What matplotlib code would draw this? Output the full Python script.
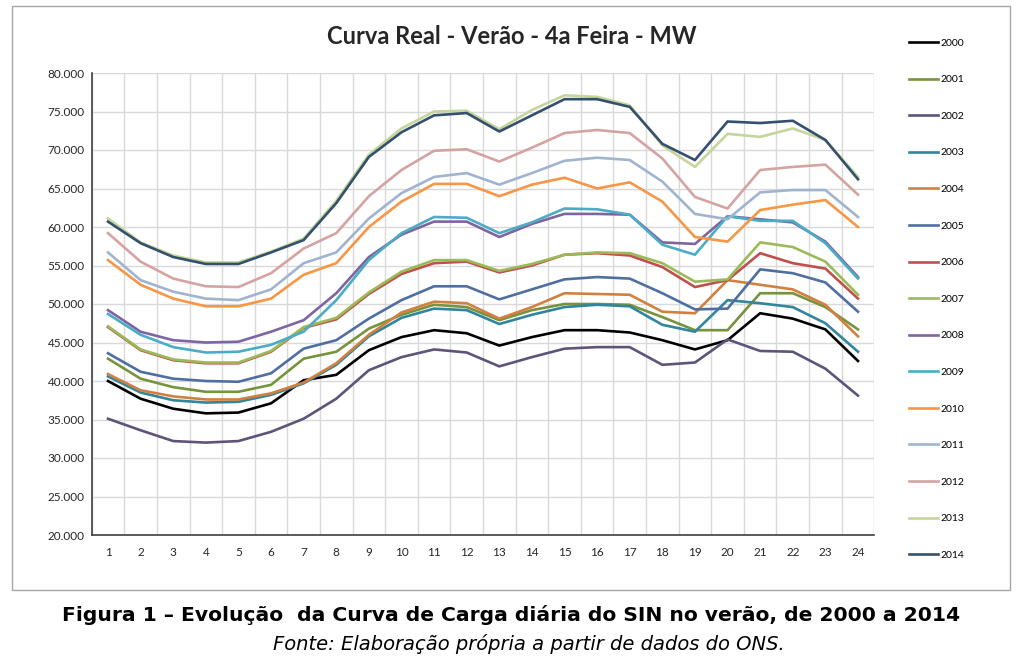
import matplotlib.pyplot as plt
from matplotlib.patches import Rectangle
from matplotlib.ticker import FuncFormatter

# horas do dia
horas = list(range(1, 25))

# carga (MW) por ano
y2000 = [40000, 37700, 36400, 35800, 35900, 37100, 40100, 40800, 44000, 45700, 46600, 46200,
         44600, 45700, 46600, 46600, 46300, 45300, 44100, 45300, 48800, 48100, 46700, 42600]
y2001 = [42900, 40300, 39200, 38600, 38600, 39500, 42900, 43800, 46800, 48600, 49900, 49600,
         47900, 49200, 50000, 50000, 49900, 48300, 46600, 46600, 51400, 51400, 49600, 46700]
y2002 = [35100, 33600, 32200, 32000, 32200, 33400, 35100, 37700, 41400, 43100, 44100, 43700,
         41900, 43100, 44200, 44400, 44400, 42100, 42400, 45400, 43900, 43800, 41600, 38100]
y2003 = [40600, 38500, 37500, 37200, 37300, 38200, 39700, 42100, 45800, 48200, 49400, 49200,
         47400, 48600, 49600, 49900, 49700, 47300, 46400, 50500, 50100, 49600, 47500, 43800]
y2004 = [40900, 38800, 38000, 37600, 37600, 38400, 39800, 42300, 46000, 48900, 50300, 50100,
         48100, 49600, 51400, 51300, 51200, 49000, 48800, 53100, 52500, 51900, 49900, 45800]
y2005 = [43600, 41200, 40300, 40000, 39900, 41000, 44200, 45300, 48100, 50500, 52300, 52300,
         50600, 51900, 53200, 53500, 53300, 51400, 49300, 49400, 54500, 54000, 52800, 49000]
y2006 = [47000, 44000, 42700, 42300, 42300, 43800, 46900, 48000, 51300, 53900, 55300, 55500,
         54100, 55000, 56400, 56600, 56300, 54800, 52200, 53100, 56600, 55300, 54600, 50700]
y2007 = [47100, 44100, 42800, 42400, 42400, 43900, 47000, 48200, 51500, 54200, 55700, 55700,
         54300, 55200, 56400, 56700, 56600, 55300, 52900, 53200, 58000, 57400, 55500, 51200]
y2008 = [49200, 46400, 45300, 45000, 45100, 46400, 47900, 51400, 56100, 59000, 60700, 60700,
         58700, 60400, 61700, 61700, 61600, 58000, 57800, 61400, 61000, 60600, 58100, 53500]
y2009 = [48700, 46000, 44400, 43700, 43800, 44700, 46400, 50500, 55700, 59200, 61300, 61200,
         59200, 60600, 62400, 62300, 61600, 57700, 56400, 61400, 60800, 60800, 57900, 53300]
y2010 = [55700, 52500, 50700, 49700, 49700, 50700, 53800, 55300, 60000, 63300, 65600, 65600,
         64000, 65500, 66400, 65000, 65800, 63300, 58700, 58100, 62200, 62900, 63500, 60000]
y2011 = [56700, 53100, 51600, 50700, 50500, 51900, 55300, 56700, 61100, 64400, 66500, 67000,
         65500, 67000, 68600, 69000, 68700, 65900, 61700, 61000, 64500, 64800, 64800, 61300]
y2012 = [59200, 55500, 53300, 52300, 52200, 54000, 57200, 59200, 64000, 67400, 69900, 70100,
         68500, 70300, 72200, 72600, 72200, 68900, 63900, 62400, 67400, 67800, 68100, 64200]
y2013 = [61100, 58000, 56300, 55400, 55400, 56800, 58500, 63400, 69400, 72800, 75000, 75100,
         72700, 75200, 77100, 76900, 75800, 70600, 67800, 72100, 71700, 72800, 71300, 66500]
y2014 = [60700, 57900, 56100, 55200, 55200, 56700, 58300, 63100, 69100, 72300, 74500, 74800,
         72400, 74500, 76600, 76600, 75600, 70800, 68700, 73700, 73500, 73800, 71300, 66200]

anos = ['2000', '2001', '2002', '2003', '2004', '2005', '2006', '2007',
        '2008', '2009', '2010', '2011', '2012', '2013', '2014']
series = [y2000, y2001, y2002, y2003, y2004, y2005, y2006, y2007,
          y2008, y2009, y2010, y2011, y2012, y2013, y2014]
cores = ['#000000', '#77933C', '#5E5479', '#31859C', '#D2803F', '#4F6FA0', '#C0504D', '#9BBB59',
         '#7E64A0', '#4BACC6', '#F79646', '#A0B4D0', '#D4A3A2', '#C3D69B', '#34506E']

plt.rcParams['font.family'] = ['Lato', 'DejaVu Sans']

fig = plt.figure(figsize=(10.23, 6.6), dpi=100)

# moldura do grafico
fig.patches.append(Rectangle((12 / 1023, 1 - 590 / 660), 998 / 1023, 584 / 660,
                             transform=fig.transFigure, fill=False,
                             edgecolor='#a6a6a6', linewidth=1.0))

ax = fig.add_axes([91.7 / 1023, 1 - 535 / 660, (874.3 - 91.7) / 1023, 462 / 660])

for ano, y, c in zip(anos, series, cores):
    ax.plot(horas, y, color=c, linewidth=1.9, label=ano)

ax.set_xlim(0.5, 24.5)
ax.set_ylim(20000, 80000)
ax.set_yticks(range(20000, 80001, 5000))
ax.yaxis.set_major_formatter(FuncFormatter(lambda v, p: f"{v:,.0f}".replace(',', '.')))
ax.set_xticks(horas)
ax.set_xticks([h + 0.5 for h in range(0, 25)], minor=True)
ax.tick_params(axis='both', which='major', length=0, labelsize=8.5, colors='#262626')
ax.tick_params(axis='y', which='major', pad=5)
ax.tick_params(axis='x', which='major', pad=9)
ax.tick_params(axis='x', which='minor', length=0)
ax.grid(True, axis='y', which='major', color='#d9d9d9', linewidth=1)
ax.grid(True, axis='x', which='minor', color='#d9d9d9', linewidth=1)
ax.set_axisbelow(True)
for s in ['top', 'right']:
    ax.spines[s].set_visible(False)
ax.spines['left'].set_color('#404040')
ax.spines['bottom'].set_color('#404040')
ax.spines['left'].set_linewidth(1.2)
ax.spines['bottom'].set_linewidth(1.2)

fig.text(0.5, 1 - 37 / 660, 'Curva Real - Verão - 4a Feira - MW', ha='center', va='center',
         fontsize=17, fontweight='bold', color='#262626')

ax.legend(loc='upper left', bbox_to_anchor=(900 / 1023, 1 - 29 / 660), bbox_transform=fig.transFigure,
          frameon=False, fontsize=7.5, handlelength=2.7, handletextpad=0.3, labelspacing=2.62)

fig.text(0.5, 1 - 615 / 660, 'Figura 1 – Evolução  da Curva de Carga diária do SIN no verão, de 2000 a 2014',
         ha='center', va='center', fontsize=14.6, fontweight='bold', family='DejaVu Sans')
fig.text(0.517, 1 - 644 / 660, 'Fonte: Elaboração própria a partir de dados do ONS.',
         ha='center', va='center', fontsize=14, style='italic', family='DejaVu Sans')

fig.savefig('out.png', dpi=100)
